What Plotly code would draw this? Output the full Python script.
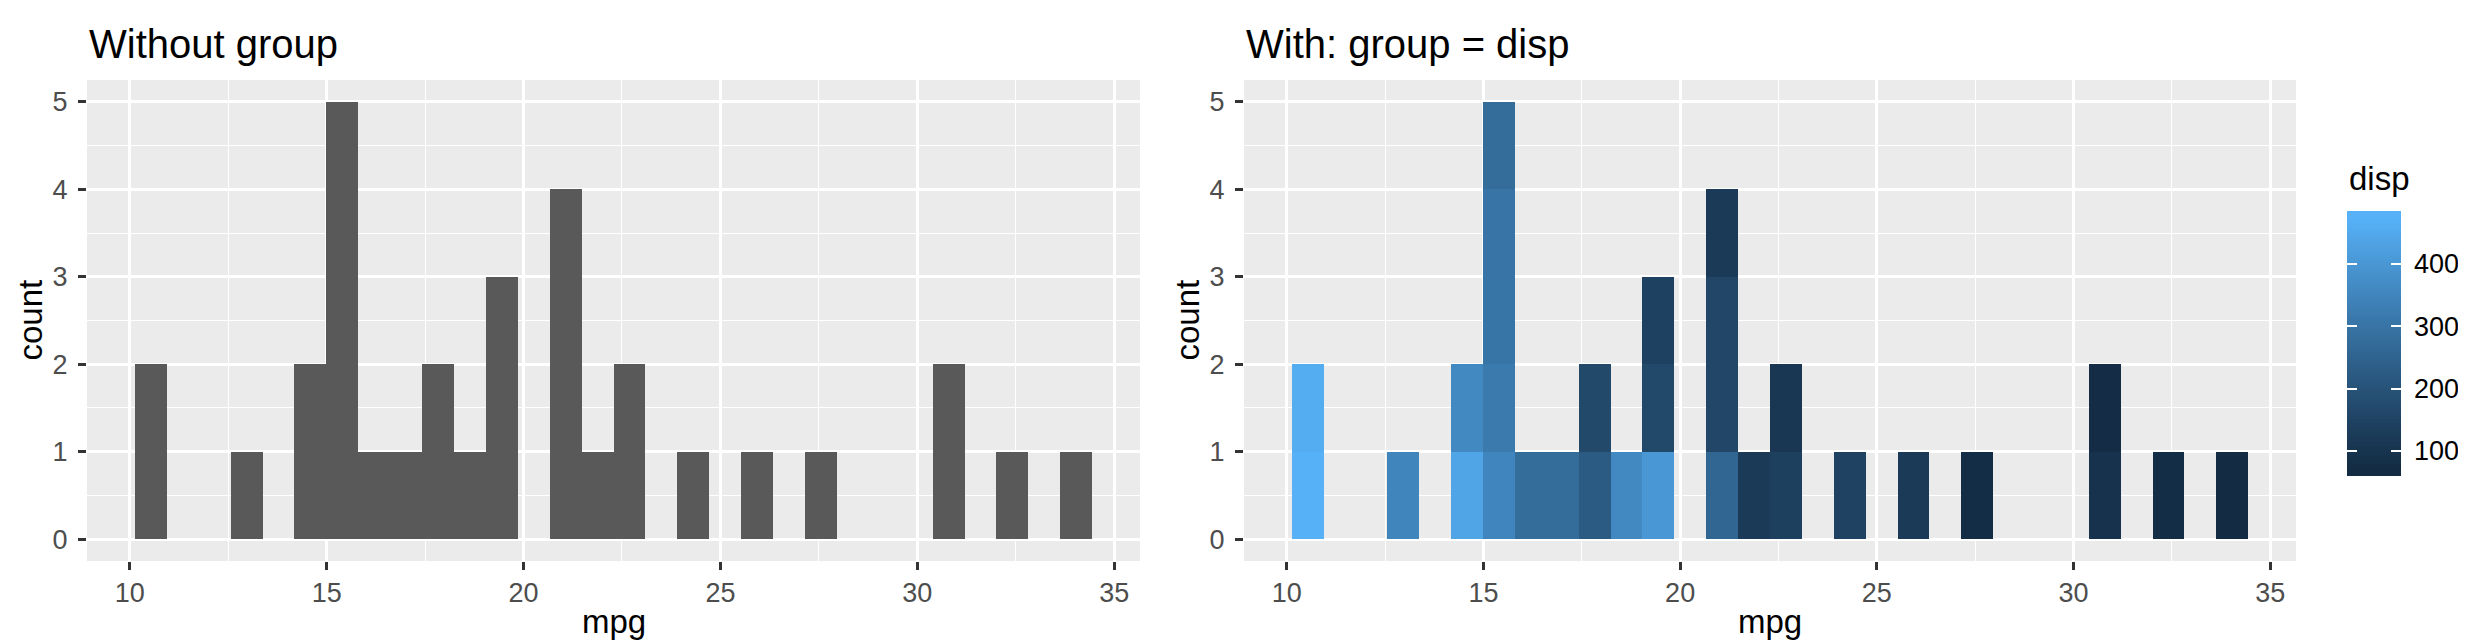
import math
import plotly.graph_objects as go

# ---- data (mtcars) ----
mpg = [21.0, 21.0, 22.8, 21.4, 18.7, 18.1, 14.3, 24.4, 22.8, 19.2, 17.8, 16.4,
       17.3, 15.2, 10.4, 10.4, 14.7, 32.4, 30.4, 33.9, 21.5, 15.5, 15.2, 13.3,
       19.2, 27.3, 26.0, 30.4, 15.8, 19.7, 15.0, 21.4]
disp = [160, 160, 108, 258, 360, 225, 360, 146.7, 140.8, 167.6, 167.6, 275.8,
        275.8, 275.8, 472, 460, 440, 78.7, 75.7, 71.1, 120.1, 318, 304, 350,
        400, 79, 120.3, 95.1, 351, 145, 301, 121]
n_bins = 30
x_ticks = [10, 15, 20, 25, 30, 35]
x_minor = [12.5, 17.5, 22.5, 27.5, 32.5]
y_ticks = [0, 1, 2, 3, 4, 5]
y_minor = [-0.5, 0.5, 1.5, 2.5, 3.5, 4.5]
cbar_ticks = [100, 200, 300, 400]

FONT = "Liberation Sans, Arial, Helvetica, sans-serif"
W, H = 2466, 640
TICK_SIZE = 27
TITLE_SIZE = 33
PLOT_TITLE_SIZE = 40

# ---- ggplot-like binning (bins = 30) ----
lo, hi = min(mpg), max(mpg)
bw = (hi - lo) / (n_bins - 1)
boundary = bw / 2
shift = math.floor((lo - boundary) / bw)
origin = boundary + shift * bw
end = origin + n_bins * bw
span = end - origin
x_range = [origin - 0.05 * span, end + 0.05 * span]
y_range = [-0.25, 5.25]

# ---- ggplot default continuous fill (Lab interpolation) ----
def _lin(c):
    return c / 12.92 if c <= 0.04045 else ((c + 0.055) / 1.055) ** 2.4

def _delin(c):
    c = 12.92 * c if c <= 0.0031308 else 1.055 * c ** (1 / 2.4) - 0.055
    return min(1.0, max(0.0, c))

WHITE = (0.95047, 1.0, 1.08883)

def hex_to_lab(h):
    r, g, b = [_lin(int(h[i:i + 2], 16) / 255) for i in (1, 3, 5)]
    X = 0.4124564 * r + 0.3575761 * g + 0.1804375 * b
    Y = 0.2126729 * r + 0.7151522 * g + 0.0721750 * b
    Z = 0.0193339 * r + 0.1191920 * g + 0.9503041 * b
    d = 6 / 29
    f = lambda t: t ** (1 / 3) if t > d ** 3 else t / (3 * d * d) + 4 / 29
    fx, fy, fz = f(X / WHITE[0]), f(Y / WHITE[1]), f(Z / WHITE[2])
    return (116 * fy - 16, 500 * (fx - fy), 200 * (fy - fz))

def lab_to_rgb(L, a, b):
    d = 6 / 29
    fy = (L + 16) / 116
    fx = fy + a / 500
    fz = fy - b / 200
    finv = lambda t: t ** 3 if t > d else 3 * d * d * (t - 4 / 29)
    X, Y, Z = finv(fx) * WHITE[0], finv(fy) * WHITE[1], finv(fz) * WHITE[2]
    r = 3.2404542 * X - 1.5371385 * Y - 0.4985314 * Z
    g = -0.9692660 * X + 1.8760108 * Y + 0.0415560 * Z
    bb = 0.0556434 * X - 0.2040259 * Y + 1.0572252 * Z
    return "rgb(%d,%d,%d)" % tuple(round(_delin(c) * 255) for c in (r, g, bb))

LOW, HIGH = hex_to_lab("#132B43"), hex_to_lab("#56B1F7")
dmin, dmax = min(disp), max(disp)

def fill_for(v):
    t = (v - dmin) / (dmax - dmin)
    t = min(1.0, max(0.0, t))
    return lab_to_rgb(*[l0 + (l1 - l0) * t for l0, l1 in zip(LOW, HIGH)])

# ---- pixel helpers ----
def px(x):
    return x / W

def py(y):
    return 1 - y / H

PANEL_TOP, PANEL_BOT = 72, 553
L_LEFT, L_RIGHT = 79, 1132
R_LEFT, R_RIGHT = 1236, 2288
CB_LEFT, CB_RIGHT, CB_TOP, CB_BOT = 2339, 2393, 203, 468

fig = go.Figure()

xbins = dict(start=origin, end=end, size=bw)

fig.add_trace(go.Histogram(x=mpg, xbins=xbins, autobinx=False,
                           marker=dict(color="#595959", line=dict(width=0)),
                           xaxis="x", yaxis="y", showlegend=False, hoverinfo="skip"))

groups = sorted(set(disp), reverse=True)  # highest disp stacked at bottom
for gval in groups:
    xs = [m for m, d in zip(mpg, disp) if d == gval]
    fig.add_trace(go.Histogram(x=xs, xbins=xbins, autobinx=False,
                               marker=dict(color=fill_for(gval), line=dict(width=0)),
                               xaxis="x2", yaxis="y2", showlegend=False, hoverinfo="skip"))

# ---- colour bar drawn as a heatmap on its own small axes ----
ppu = (443 - 256) / 300.0          # pixels per disp unit on the bar
c_hi = 400 + (256 - CB_TOP) / ppu
c_lo = 100 - (CB_BOT - 443) / ppu
N = 120
cb_vals = [c_lo + (c_hi - c_lo) * (i + 0.5) / N for i in range(N)]
cscale = [[i / 40, fill_for(c_lo + (c_hi - c_lo) * i / 40)] for i in range(41)]
fig.add_trace(go.Heatmap(x=[0], y=cb_vals, z=[[v] for v in cb_vals],
                         zmin=c_lo, zmax=c_hi, colorscale=cscale, showscale=False,
                         xaxis="x3", yaxis="y3", hoverinfo="skip"))
fig.add_trace(go.Scatter(x=[None], y=[None], mode="markers", xaxis="x3", yaxis="y4",
                         showlegend=False, hoverinfo="skip"))

axis_common = dict(
    showline=False, zeroline=False,
    showgrid=True, gridcolor="white", gridwidth=2.7,
    ticks="outside", ticklen=8, tickwidth=2.7, tickcolor="#333333",
    tickfont=dict(family=FONT, size=TICK_SIZE, color="#4D4D4D"),
)

xcommon = dict(axis_common, range=x_range, tickvals=x_ticks,
               minor=dict(showgrid=True, gridcolor="white", gridwidth=1.4, ticks="",
                          tickvals=x_minor))
ycommon = dict(axis_common, range=y_range, tickvals=y_ticks, ticklabelstandoff=5,
               minor=dict(showgrid=True, gridcolor="white", gridwidth=1.4, ticks="",
                          tickvals=y_minor))

cb_y = dict(range=[c_lo, c_hi], domain=[py(CB_BOT), py(CB_TOP)], anchor="x3",
            tickvals=cbar_ticks, ticks="inside", ticklen=10, tickwidth=2,
            tickcolor="white", showgrid=False, zeroline=False, showline=False,
            fixedrange=True)

fig.update_layout(
    width=W, height=H,
    margin=dict(l=0, r=0, t=0, b=0),
    paper_bgcolor="white", plot_bgcolor="#EBEBEB",
    barmode="stack", bargap=0, bargroupgap=0,
    font=dict(family=FONT, color="black"),
    xaxis=dict(xcommon, domain=[px(L_LEFT), px(L_RIGHT)], anchor="y"),
    yaxis=dict(ycommon, domain=[py(PANEL_BOT), py(PANEL_TOP)], anchor="x"),
    xaxis2=dict(xcommon, domain=[px(R_LEFT), px(R_RIGHT)], anchor="y2"),
    yaxis2=dict(ycommon, domain=[py(PANEL_BOT), py(PANEL_TOP)], anchor="x2"),
    xaxis3=dict(domain=[px(CB_LEFT), px(CB_RIGHT)], anchor="y3", range=[-0.5, 0.5],
                visible=False, fixedrange=True),
    yaxis3=dict(cb_y, side="right", showticklabels=True, ticklabelstandoff=12,
                tickfont=dict(family=FONT, size=TICK_SIZE, color="black")),
    yaxis4=dict(cb_y, side="left", overlaying="y3", showticklabels=False),
)

ann = []
ann.append(dict(text="Without group", x=px(L_LEFT), y=py(36), xref="paper", yref="paper",
                xanchor="left", yanchor="middle", showarrow=False,
                font=dict(family=FONT, size=PLOT_TITLE_SIZE, color="black")))
ann.append(dict(text="With: group = disp", x=px(R_LEFT), y=py(36), xref="paper", yref="paper",
                xanchor="left", yanchor="middle", showarrow=False,
                font=dict(family=FONT, size=PLOT_TITLE_SIZE, color="black")))
for cx in [(L_LEFT + L_RIGHT) / 2, (R_LEFT + R_RIGHT) / 2]:
    ann.append(dict(text="mpg", x=px(cx), y=py(613), xref="paper", yref="paper",
                    xanchor="center", yanchor="middle", showarrow=False,
                    font=dict(family=FONT, size=TITLE_SIZE, color="black")))
for cx in [22, R_LEFT - L_LEFT + 22]:
    ann.append(dict(text="count", x=px(cx), y=py((PANEL_TOP + PANEL_BOT) / 2),
                    xref="paper", yref="paper", textangle=-90,
                    xanchor="center", yanchor="middle", showarrow=False,
                    font=dict(family=FONT, size=TITLE_SIZE, color="black")))
ann.append(dict(text="disp", x=px(CB_LEFT), y=py(170), xref="paper", yref="paper",
                xanchor="left", yanchor="middle", showarrow=False,
                font=dict(family=FONT, size=TITLE_SIZE, color="black")))
fig.update_layout(annotations=ann)

fig.write_html("out.html")
